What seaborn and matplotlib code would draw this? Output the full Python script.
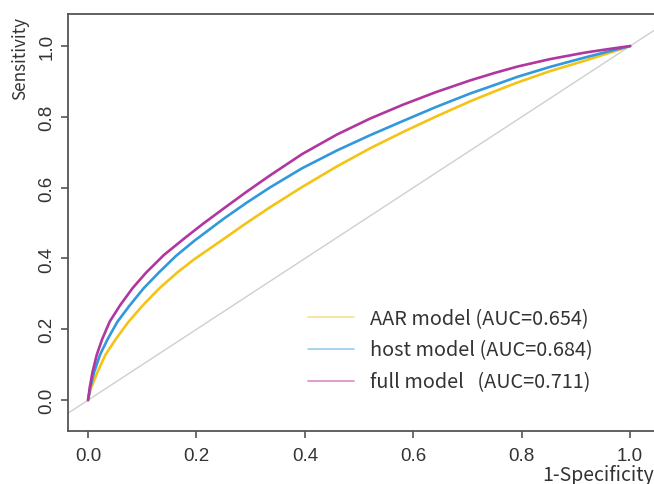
import pandas as pd
import matplotlib
matplotlib.use("Agg")
import matplotlib.pyplot as plt
from matplotlib.lines import Line2D
import seaborn as sns

# ROC points (1-specificity, sensitivity)
aar_fpr = [0, 0.005, 0.017, 0.032, 0.051, 0.074, 0.100, 0.131, 0.165, 0.196, 0.250, 0.292, 0.336,
           0.395, 0.459, 0.520, 0.582, 0.642, 0.705, 0.750, 0.792, 0.852, 0.915, 0.958, 1.0]
aar_tpr = [0, 0.032, 0.078, 0.128, 0.172, 0.220, 0.266, 0.315, 0.361, 0.398, 0.455, 0.500, 0.545,
           0.602, 0.660, 0.711, 0.758, 0.801, 0.844, 0.872, 0.897, 0.929, 0.958, 0.979, 1.0]

host_fpr = [0, 0.004, 0.011, 0.022, 0.036, 0.054, 0.076, 0.102, 0.131, 0.162, 0.196, 0.250, 0.292,
            0.336, 0.395, 0.459, 0.520, 0.582, 0.642, 0.705, 0.750, 0.792, 0.852, 0.915, 0.958, 1.0]
host_tpr = [0, 0.035, 0.078, 0.128, 0.172, 0.221, 0.266, 0.315, 0.361, 0.407, 0.450, 0.512, 0.557,
            0.601, 0.655, 0.705, 0.748, 0.789, 0.828, 0.866, 0.890, 0.913, 0.941, 0.967, 0.984, 1.0]

full_fpr = [0, 0.003, 0.008, 0.016, 0.026, 0.040, 0.060, 0.082, 0.107, 0.140, 0.177, 0.212, 0.250,
            0.292, 0.336, 0.395, 0.459, 0.520, 0.582, 0.642, 0.705, 0.750, 0.792, 0.852, 0.915, 0.958, 1.0]
full_tpr = [0, 0.035, 0.078, 0.128, 0.172, 0.222, 0.270, 0.316, 0.360, 0.410, 0.456, 0.498, 0.541,
            0.588, 0.635, 0.695, 0.750, 0.795, 0.835, 0.870, 0.903, 0.924, 0.942, 0.963, 0.981, 0.991, 1.0]

models = ["AAR model", "host model", "full model"]
labels = ["AAR model (AUC=0.654)", "host model (AUC=0.684)", "full model   (AUC=0.711)"]
line_colors = {"AAR model": "#F5C316", "host model": "#3198DD", "full model": "#B2369F"}
legend_colors = ["#F8E08A", "#9BCBF0", "#D98ACB"]
x_ticks = [0.0, 0.2, 0.4, 0.6, 0.8, 1.0]
y_ticks = [0.0, 0.2, 0.4, 0.6, 0.8, 1.0]

frames = []
for name, fpr, tpr in zip(models, [aar_fpr, host_fpr, full_fpr], [aar_tpr, host_tpr, full_tpr]):
    frames.append(pd.DataFrame({"fpr": fpr, "tpr": tpr, "model": name}))
df = pd.concat(frames, ignore_index=True)

sns.set_style("white")
plt.rcParams["font.family"] = ["Liberation Sans", "DejaVu Sans"]
cjk = ["Noto Sans CJK SC", "DejaVu Sans"]

fig = plt.figure(figsize=(6.54, 4.85), dpi=100)
ax = fig.add_axes([0.104, 0.109, 0.896, 0.860])

# chance diagonal
ax.axline((0, 0), slope=1, color="#CFCFCF", lw=1.0, zorder=1)

sns.lineplot(data=df, x="fpr", y="tpr", hue="model", hue_order=models,
             palette=line_colors, sort=False, estimator=None, lw=1.9,
             legend=False, ax=ax, zorder=3)

ax.set_xlim(-0.037, 1.044)
ax.set_ylim(-0.0876, 1.0904)
ax.set_xticks(x_ticks)
ax.set_yticks(y_ticks)
ax.set_xticklabels([f"{t:.1f}" for t in x_ticks])
ax.set_yticklabels([f"{t:.1f}" for t in y_ticks], rotation=90, va="center")
ax.tick_params(axis="both", direction="out", length=5, width=1.2, color="#555555",
               labelsize=13.5, labelcolor="#333333")
ax.tick_params(axis="x", bottom=True, pad=6.5)
ax.tick_params(axis="y", left=True, pad=4)
ax.set_xlabel("")
ax.set_ylabel("")

for side in ["left", "top", "bottom"]:
    ax.spines[side].set_color("#555555")
    ax.spines[side].set_linewidth(1.3)
ax.spines["right"].set_visible(False)

handles = [Line2D([], [], color=c, lw=1.2) for c in legend_colors]
leg = ax.legend(handles, labels, loc="upper left", bbox_to_anchor=(0.41, 0.296),
                frameon=False, borderpad=0, borderaxespad=0, handlelength=2.3,
                handletextpad=0.8, labelspacing=0.55,
                prop={"family": cjk, "size": 14.3})
for t in leg.get_texts():
    t.set_color("#333333")

fig.text(0.031, 0.880, "Sensitivity", rotation=90, ha="center", va="center",
         fontsize=12.3, color="#333333", family=cjk)
fig.text(0.829, 0.019, "1-Specificity", ha="left", va="center",
         fontsize=14, color="#333333", family=cjk)

fig.savefig("out.png", dpi=100)
